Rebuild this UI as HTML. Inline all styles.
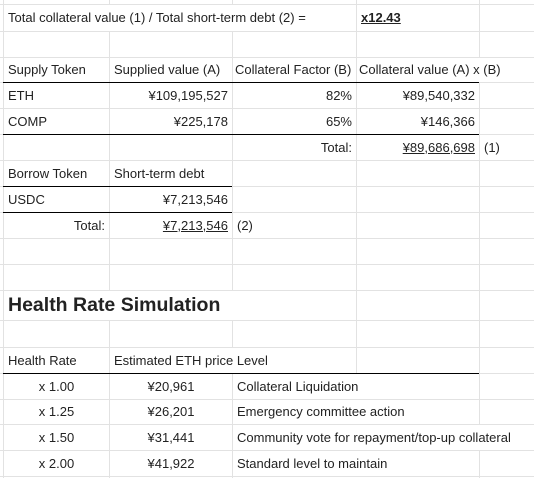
<!DOCTYPE html>
<html><head><meta charset="utf-8"><style>
body{margin:0;width:534px;height:478px;background:#fff;position:relative;overflow:hidden;font-family:"Liberation Sans",Arial,sans-serif;font-size:13px;color:#222}
.v,.h{position:absolute;background:#e2e2e2}
.b{position:absolute;background:#000;height:1px}
.c{position:absolute;display:flex;align-items:center;white-space:nowrap;padding:0 4px;box-sizing:border-box}
.r{justify-content:flex-end}.m{justify-content:center}
u{text-decoration:underline}
</style></head><body>
<div id="grid"></div>
<div id="cells"></div>
<script>
const g=document.getElementById('grid');
const X=[3,109,232,356,479];
const Y=[4,31,57,82,108,134,160,186,212,238,264,290,320,347,373,399,424,450,476];
const skips=[[1,4,31],[2,4,31],[4,57,82],[1,290,320],[2,290,320],[2,347,373],[3,373,478],[4,424,450]];
X.forEach((x,i)=>{
  let segs=[[0,478]];
  skips.filter(s=>s[0]===i).forEach(s=>{
    segs=segs.flatMap(([a,b])=>s[1]>=b||s[2]<=a?[[a,b]]:[[a,s[1]],[s[2],b]].filter(q=>q[1]>q[0]));
  });
  segs.forEach(([a,b])=>{const d=document.createElement('div');d.className='v';
  
  
  d.style.cssText=`left:${x}px;top:${a}px;width:1px;height:${b-a}px`;g.appendChild(d);});
});
Y.forEach(y=>{const d=document.createElement('div');d.className='h';


d.style.cssText=`left:0;top:${y}px;width:534px;height:1px`;g.appendChild(d);});
const bold=[[82,3,479],[134,3,479],[186,3,232],[212,3,232],[373,3,479]];
bold.forEach(([y,a,b])=>{const d=document.createElement('div');d.className='b';


d.style.cssText=`left:${a}px;top:${y}px;width:${b-a}px`;g.appendChild(d);});
const cells=document.getElementById('cells');
function cell(r0,r1,c0,c1,txt,cls,name,style){const d=document.createElement('div');d.className='c '+(cls||'');


d.style.cssText=`left:${X[c0]+1}px;top:${r0}px;width:${(c1<5?X[c1]:534)-X[c0]-1}px;height:${r1-r0}px;`+(style||'');
d.innerHTML=txt;cells.appendChild(d);}
cell(4,31,0,3,'Total collateral value (1) / Total short-term debt (2) =','','ratio-label');
cell(4,31,3,4,'<u><b>x12.43</b></u>','','ratio-value');
cell(57,82,0,1,'Supply Token','','header-supply-token');
cell(57,82,1,2,'Supplied value (A)','','header-supplied-value');
cell(57,82,2,3,'Collateral Factor (B)','','header-collateral-factor','padding:0 2px');
cell(57,82,3,5,'Collateral value (A) x (B)','','header-collateral-value','padding:0 2px');
cell(82,108,0,1,'ETH','','eth-token');
cell(82,108,1,2,'¥109,195,527','r','eth-supplied');
cell(82,108,2,3,'82%','r','eth-factor');
cell(82,108,3,4,'¥89,540,332','r','eth-collateral');
cell(108,134,0,1,'COMP','','comp-token');
cell(108,134,1,2,'¥225,178','r','comp-supplied');
cell(108,134,2,3,'65%','r','comp-factor');
cell(108,134,3,4,'¥146,366','r','comp-collateral');
cell(134,160,2,3,'Total:','r','collateral-total-label');
cell(134,160,3,4,'<u>¥89,686,698</u>','r','collateral-total');
cell(134,160,4,5,'(1)','','note-1');
cell(160,186,0,1,'Borrow Token','','header-borrow-token');
cell(160,186,1,2,'Short-term debt','','header-short-term-debt');
cell(186,212,0,1,'USDC','','usdc-token');
cell(186,212,1,2,'¥7,213,546','r','usdc-debt');
cell(212,238,0,1,'Total:','r','debt-total-label');
cell(212,238,1,2,'<u>¥7,213,546</u>','r','debt-total');
cell(212,238,2,3,'(2)','','note-2');
cell(290,320,0,3,'<b>Health Rate Simulation</b>','','section-title','font-size:19.5px');
cell(347,373,0,1,'Health Rate','','header-health-rate');
cell(347,373,1,3,'Estimated ETH price Level','','header-eth-price');
const rates=['x 1.00','x 1.25','x 1.50','x 2.00'];
const prices=['¥20,961','¥26,201','¥31,441','¥41,922'];
const levels=['Collateral Liquidation','Emergency committee action','Community vote for repayment/top-up collateral','Standard level to maintain'];
const ry=[373,399,424,450,476];
rates.forEach((r,i)=>{
  cell(ry[i],ry[i+1],0,1,r,'m','health-rate-'+i);
  cell(ry[i],ry[i+1],1,2,prices[i],'m','eth-price-'+i);
  cell(ry[i],ry[i+1],2,5,levels[i],'','level-'+i);
});
</script>
</body></html>
